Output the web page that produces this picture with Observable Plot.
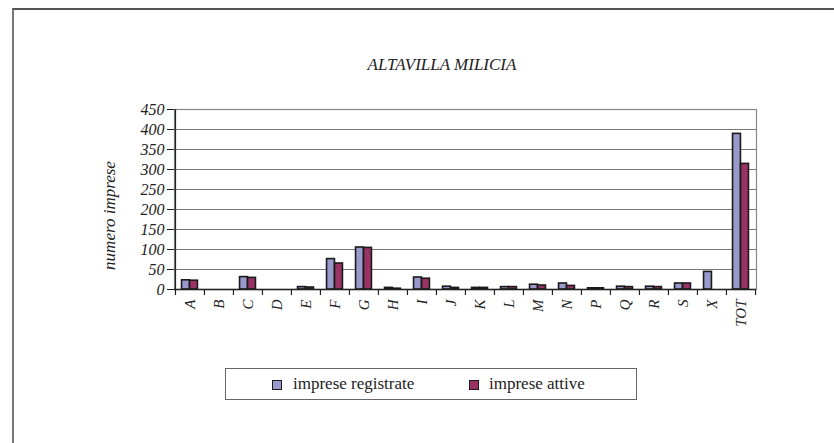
<!DOCTYPE html>
<html><head><meta charset="utf-8">
<script src="https://cdn.jsdelivr.net/npm/d3@7"></script>
<script src="https://cdn.jsdelivr.net/npm/@observablehq/plot@0.6"></script>
<style>
body{margin:0;background:#fff;}
#page{position:relative;width:834px;height:443px;overflow:hidden;font-family:"Liberation Serif",Tinos,"Times New Roman",Times,"DejaVu Serif",serif;color:#222;}
#border{position:absolute;left:12px;top:8px;width:840px;height:450px;border-left:2px solid #777;border-top:2px solid #555;}
#title{position:absolute;left:342px;width:200px;top:56px;text-align:center;font-style:italic;font-size:17px;line-height:17px;white-space:nowrap;}
#chart{position:absolute;left:0;top:80px;}
#legend{position:absolute;left:225px;top:368px;width:412px;height:32px;box-sizing:border-box;border:1px solid #666;background:#fff;}
.sw{position:absolute;top:11px;width:10px;height:10px;box-sizing:border-box;border:1.5px solid #1a1a1a;}
.lt{position:absolute;top:6px;font-size:17px;line-height:17px;white-space:nowrap;}
#chart svg text{font-family:"Liberation Serif",Tinos,"Times New Roman",Times,"DejaVu Serif",serif;}
</style>
</head><body>
<div id="page">
  <div id="border"></div>
  <div id="title"></div>
  <div id="chart"></div>
  <div id="legend"></div>
</div>
<script>
const title = "ALTAVILLA MILICIA";
const yLabel = "numero imprese";
const categories = ["A","B","C","D","E","F","G","H","I","J","K","L","M","N","P","Q","R","S","X","TOT"];
const registrate = [23,0,31,0,6,76,105,4,30,7,4,6,12,15,3,7,7,15,44,389];
const attive     = [22,0,29,0,5,65,104,2,27,4,4,6,10,9,3,6,6,15,0,314];
const yTicks = [0,50,100,150,200,250,300,350,400,450];
const seriesNames = ["imprese registrate","imprese attive"];
const seriesColors = ["#9999CC","#993366"];

document.getElementById("title").textContent = title;

const W = 834, H = 260, mL = 174, mR = 78, mT = 29, mB = 51;
const step = (W - mL - mR) / categories.length;
const half = step / 2;
const barW = 8;
const serif = "'Liberation Serif', Tinos, 'Times New Roman', Times, 'DejaVu Serif', serif";

const rows = categories.map((c, i) => ({cat: c, reg: registrate[i], att: attive[i]}));

const chart = Plot.plot({
  width: W, height: H,
  marginLeft: mL, marginRight: mR, marginTop: mT, marginBottom: mB,
  style: {fontFamily: serif, fontStyle: "italic", fontSize: "15px", color: "#222", background: "transparent"},
  x: {domain: categories, padding: 0, axis: null},
  y: {domain: [0, 450], axis: null},
  marks: [
    Plot.ruleY(yTicks, {stroke: "#777", strokeWidth: 1.2}),
    Plot.frame({stroke: "#888", strokeWidth: 1.2}),
    Plot.barY(rows.filter(d => d.reg > 0), {x: "cat", y: "reg", fill: seriesColors[0], stroke: "#1a1a1a", strokeWidth: 1.6, insetLeft: half - barW, insetRight: half}),
    Plot.barY(rows.filter(d => d.att > 0), {x: "cat", y: "att", fill: seriesColors[1], stroke: "#1a1a1a", strokeWidth: 1.6, insetLeft: half, insetRight: half - barW}),
    Plot.ruleY([0], {stroke: "#222", strokeWidth: 1.3}),
    Plot.ruleX([categories[0]], {dx: -half, y1: 0, y2: 450, stroke: "#222", strokeWidth: 1.3}),
    Plot.ruleX(categories, {dx: -half, y1: 0, y2: -15, stroke: "#222", strokeWidth: 1.2}),
    Plot.ruleX([categories[categories.length - 1]], {dx: half, y1: 0, y2: -15, stroke: "#222", strokeWidth: 1.2}),
    Plot.axisY({ticks: yTicks, tickSize: 7, tickPadding: 3, fontSize: 16, label: null, stroke: "#222"}),
    Plot.axisX({tickSize: 0, tickRotate: -90, tickPadding: 10, fontSize: 15, label: null}),
    Plot.text([yLabel], {frameAnchor: "left", textAnchor: "middle", rotate: -90, dx: -65, dy: 16, fontSize: 17, text: d => d})
  ]
});
document.getElementById("chart").appendChild(chart);

const legend = document.getElementById("legend");
const swX = [46, 243], txX = [67, 263];
seriesNames.forEach((name, i) => {
  const s = document.createElement("div");
  s.className = "sw"; s.style.left = swX[i] + "px"; s.style.background = seriesColors[i];
  legend.appendChild(s);
  const t = document.createElement("div");
  t.className = "lt"; t.style.left = txX[i] + "px"; t.textContent = name;
  legend.appendChild(t);
});
</script>
</body></html>
